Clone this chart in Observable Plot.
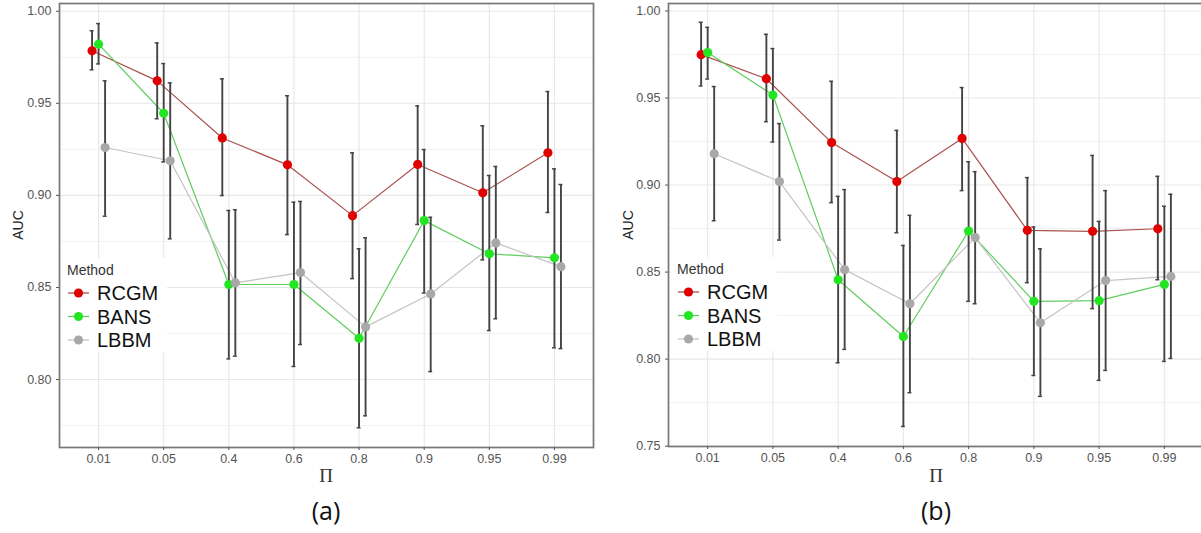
<!DOCTYPE html>
<html><head><meta charset="utf-8">
<script src="https://cdn.jsdelivr.net/npm/d3@7"></script>
<script src="https://cdn.jsdelivr.net/npm/@observablehq/plot@0.6"></script>
<style>
html,body{margin:0;padding:0;background:#fff;overflow:hidden;width:1201px;height:533px}
#root{position:relative;width:1201px;height:533px;overflow:hidden;background:#fff}
.panel{position:absolute;top:0}
.lab{position:absolute;white-space:nowrap;line-height:1}
</style></head><body><div id="root"></div>
<script>
// ---------- data ----------
const piLabels = ["0.01","0.05","0.4","0.6","0.8","0.9","0.95","0.99"];
const methods = ["RCGM","BANS","LBBM"];
const pointColors = ["#e00000","#22e622","#a8a8a8"];
const lineColors = ["#a9524e","#5fcd5f","#c4c4c4"];
const dodgeOffsets = [-0.1, 0, 0.1];

// panel (a)
const aRCGM   = [0.9785,0.9622,0.9312,0.9166,0.8890,0.9168,0.9014,0.9231];
const aRCGMlo = [0.9682,0.9416,0.8999,0.8787,0.8548,0.8842,0.8650,0.8907];
const aRCGMhi = [0.9894,0.9828,0.9633,0.9541,0.9231,0.9486,0.9378,0.9564];
const aBANS   = [0.9821,0.9446,0.8516,0.8516,0.8224,0.8863,0.8683,0.8661];
const aBANSlo = [0.9714,0.9182,0.8112,0.8071,0.7738,0.8470,0.8266,0.8172];
const aBANShi = [0.9933,0.9716,0.8918,0.8963,0.8710,0.9249,0.9108,0.9144];
const aLBBM   = [0.9260,0.9188,0.8525,0.8581,0.8286,0.8465,0.8742,0.8613];
const aLBBMlo = [0.8887,0.8764,0.8127,0.8190,0.7803,0.8043,0.8330,0.8168];
const aLBBMhi = [0.9622,0.9611,0.8922,0.8967,0.8770,0.8881,0.9157,0.9059];
const aYTicks = [0.80,0.85,0.90,0.95,1.00];
const aYMinor = [0.775,0.825,0.875,0.925,0.975];

// panel (b)
const bRCGM   = [0.9749,0.9611,0.9244,0.9020,0.9268,0.8740,0.8734,0.8749];
const bRCGMlo = [0.9569,0.9364,0.8899,0.8726,0.8968,0.8439,0.8290,0.8456];
const bRCGMhi = [0.9935,0.9866,0.9596,0.9314,0.9560,0.9043,0.9170,0.9050];
const bBANS   = [0.9761,0.9517,0.8456,0.8130,0.8736,0.8332,0.8336,0.8429];
const bBANSlo = [0.9609,0.9247,0.7979,0.7613,0.8332,0.7906,0.7878,0.7987];
const bBANShi = [0.9906,0.9784,0.8935,0.8653,0.9134,0.8759,0.8791,0.8878];
const bLBBM   = [0.9180,0.9020,0.8514,0.8318,0.8698,0.8209,0.8451,0.8475];
const bLBBMlo = [0.8795,0.8684,0.8056,0.7807,0.8318,0.7786,0.7935,0.8004];
const bLBBMhi = [0.9566,0.9353,0.8974,0.8826,0.9077,0.8634,0.8968,0.8947];
const bYTicks = [0.75,0.80,0.85,0.90,0.95,1.00];
const bYMinor = [0.775,0.825,0.875,0.925,0.975];

// ---------- build ----------
const root = document.getElementById("root");

function buildRows(series) {
  const rows = [];
  series.forEach((s, m) => {
    s.mean.forEach((v, i) => {
      rows.push({method: methods[m], m, i, x: i + dodgeOffsets[m], mean: v, lo: s.lo[i], hi: s.hi[i]});
    });
  });
  return rows;
}

function panel(cfg) {
  const rows = buildRows(cfg.series);
  const marks = [
    Plot.ruleY(cfg.minor, {stroke: "#f2f2f2", strokeWidth: 1}),
    Plot.ruleY(cfg.ticks, {stroke: "#e7e7e7", strokeWidth: 1.1}),
    Plot.ruleX(d3.range(piLabels.length), {stroke: "#e7e7e7", strokeWidth: 1.1})
  ];
  methods.forEach((name, m) => {
    marks.push(Plot.line(rows.filter(d => d.m === m), {x: "x", y: "mean", stroke: lineColors[m], strokeWidth: 1.2}));
  });
  marks.push(
    Plot.ruleX(rows, {x: "x", y1: "lo", y2: "hi", stroke: "#444", strokeWidth: 1.9}),
    Plot.ruleY(rows, {x1: d => d.x - 0.03, x2: d => d.x + 0.03, y: "lo", stroke: "#444", strokeWidth: 1.5}),
    Plot.ruleY(rows, {x1: d => d.x - 0.03, x2: d => d.x + 0.03, y: "hi", stroke: "#444", strokeWidth: 1.5})
  );
  methods.forEach((name, m) => {
    marks.push(Plot.dot(rows.filter(d => d.m === m), {x: "x", y: "mean", fill: pointColors[m], r: 4.6}));
  });
  marks.push(
    Plot.frame({stroke: "#777", strokeWidth: 1.7}),
    Plot.axisY(cfg.ticks, {tickSize: 3, tickPadding: 5, fontSize: 12.5, color: "#555", tickFormat: d3.format(".2f"), label: null}),
    Plot.axisX(d3.range(piLabels.length), {tickSize: 3, tickPadding: 4, fontSize: 12.5, color: "#555", tickFormat: i => piLabels[i], label: null})
  );
  const svg = Plot.plot({
    width: 600, height: 492,
    marginLeft: cfg.marginLeft, marginRight: 7, marginTop: 3, marginBottom: cfg.marginBottom,
    x: {type: "linear", domain: [-0.6, piLabels.length - 0.4], axis: null},
    y: {domain: cfg.domain, axis: null},
    style: {fontFamily: "'Liberation Sans', Arial, sans-serif", background: "transparent", overflow: "visible"},
    marks
  });
  svg.classList.add("panel");
  svg.style.left = cfg.left + "px";
  root.appendChild(svg);

  // axis titles and caption
  const auc = document.createElement("div");
  auc.className = "lab";
  auc.textContent = "AUC";
  Object.assign(auc.style, {left: (cfg.left + 18) + "px", top: "225px", font: "14px 'Liberation Sans', Arial, sans-serif", color: "#222",
    transform: "translate(-50%,-50%) rotate(-90deg)"});
  root.appendChild(auc);

  const pi = document.createElement("div");
  pi.className = "lab";
  pi.textContent = "Π";
  Object.assign(pi.style, {left: cfg.center + "px", top: "476px", font: "19px 'Liberation Serif', 'DejaVu Serif', serif", color: "#333",
    transform: "translate(-50%,-50%)"});
  root.appendChild(pi);

  const cap = document.createElement("div");
  cap.className = "lab";
  cap.textContent = cfg.caption;
  Object.assign(cap.style, {left: cfg.center + "px", top: "510px", font: "25px 'Open Sans', 'Noto Sans', sans-serif", color: "#111",
    transform: "translate(-50%,-50%)"});
  root.appendChild(cap);

  // legend
  const lg = d3.create("svg").attr("width", 106).attr("height", 94)
    .style("position", "absolute").style("left", (cfg.left + 61) + "px").style("top", cfg.legendTop + "px")
    .style("background", "#fff");
  lg.append("text").attr("x", 6).attr("y", 17).attr("fill", "#333")
    .style("font", "14px 'Liberation Sans', Arial, sans-serif").text("Method");
  methods.forEach((name, m) => {
    const cy = 35 + m * 23.5;
    lg.append("line").attr("x1", 7).attr("x2", 28).attr("y1", cy).attr("y2", cy)
      .attr("stroke", lineColors[m]).attr("stroke-width", 1.3);
    lg.append("circle").attr("cx", 17.5).attr("cy", cy).attr("r", 4.6).attr("fill", pointColors[m]);
    lg.append("text").attr("x", 36).attr("y", cy + 7.3).attr("fill", "#111")
      .style("font", "20px 'Liberation Sans', Arial, sans-serif").text(name);
  });
  root.appendChild(lg.node());
}

panel({
  left: 0, marginLeft: 59, marginBottom: 45, center: 326, caption: "(a)", legendTop: 258,
  domain: [0.7631, 1.0042], ticks: aYTicks, minor: aYMinor,
  series: [
    {mean: aRCGM, lo: aRCGMlo, hi: aRCGMhi},
    {mean: aBANS, lo: aBANSlo, hi: aBANShi},
    {mean: aLBBM, lo: aLBBMlo, hi: aLBBMhi}
  ]
});
panel({
  left: 610, marginLeft: 58, marginBottom: 46, center: 936, caption: "(b)", legendTop: 257,
  domain: [0.7498, 1.0043], ticks: bYTicks, minor: bYMinor,
  series: [
    {mean: bRCGM, lo: bRCGMlo, hi: bRCGMhi},
    {mean: bBANS, lo: bBANSlo, hi: bBANShi},
    {mean: bLBBM, lo: bLBBMlo, hi: bLBBMhi}
  ]
});
</script></body></html>
